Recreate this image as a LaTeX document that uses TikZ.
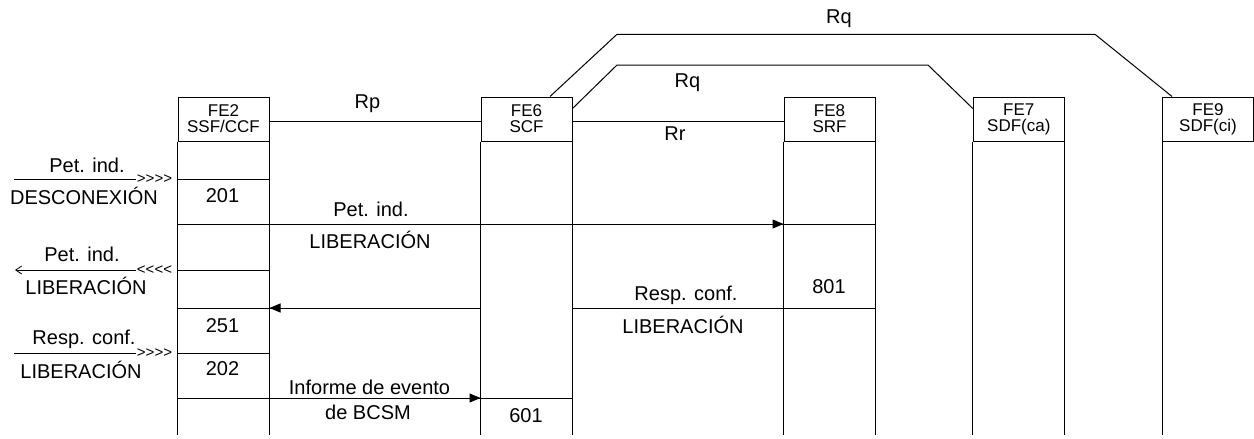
\documentclass[tikz,border=0pt]{standalone}
\usepackage{fontspec}
\setmainfont{Liberation Sans}
\usetikzlibrary{arrows.meta}

\newcommand{\gtfour}{>\kern0pt>\kern0pt>\kern0pt>}
\newcommand{\ltfour}{<\kern0pt<\kern0pt<\kern0pt<}

\tikzset{
  fe/.style={draw, line width=1pt, minimum width=91pt, minimum height=44pt,
    inner sep=0pt, align=center, font=\fontsize{17}{16}\selectfont},
  txt/.style={inner sep=0pt, anchor=base, font=\fontsize{20}{24}\selectfont},
  chev/.style={inner sep=0pt, font=\fontsize{15}{15}\selectfont},
  msg/.style={line width=1pt, -{Triangle[length=11pt,width=9pt]}},
}

\begin{document}
\begin{tikzpicture}[x=1pt, y=-1pt, line width=1pt]
\useasboundingbox (0,0) rectangle (1254,439);

\node[fe] (fe2) at (223.5,119) {FE2\\SSF/CCF};
\node[fe] (fe6) at (526.5,119) {FE6\\SCF};
\node[fe] (fe8) at (829.5,119) {FE8\\SRF};
\node[fe] (fe7) at (1018.8,119) {FE7\\SDF(ca)};
\node[fe] (fe9) at (1208,119) {FE9\\SDF(ci)};

\coordinate (bot) at (0,435);

\draw (fe2.south west)--(fe2.south west |- bot);
\draw (fe2.south east)--(fe2.south east |- bot);
\draw (fe6.south west)--(fe6.south west |- bot);
\draw (fe6.south east)--(fe6.south east |- bot);
\draw (fe8.south west)--(fe8.south west |- bot);
\draw (fe8.south east)--(fe8.south east |- bot);
\draw (fe7.south west)--(fe7.south west |- bot);
\draw (fe7.south east)--(fe7.south east |- bot);
\draw (fe9.south west)--(fe9.south west |- bot);
\draw (fe9.south east)--(fe9.south east |- bot);

% interfaces
\coordinate (q1a) at (617,65);
\coordinate (q1b) at (928,65);
\coordinate (q2a) at (617,34.3);
\coordinate (q2b) at (1095,34.3);

\draw ([yshift=-2pt]fe2.east)--([yshift=-2pt]fe6.west);
\draw ([yshift=-2pt]fe6.east)--([yshift=-2pt]fe8.west);
\draw ([yshift=-12pt]fe6.north east)--(q1a)--(q1b)--([yshift=-12pt]fe7.north west);
\draw ([xshift=23.5pt]fe6.north)--(q2a)--(q2b)--([xshift=10pt]fe9.north west);

\node[txt] (rp) at (367.5,108) {Rp};
\node[txt] (rr) at (675,140) {Rr};
\node[txt] (rq1) at (687.5,87) {Rq};
\node[txt] (rq2) at (839,23.5) {Rq};

% messages from the left
\coordinate (in1) at (14,179);
\coordinate (in2) at (15,270);
\coordinate (in3) at (14,353);
\node[chev] (ch1) at (154.5,178.7) {\gtfour};
\node[chev] (ch2) at (154.5,269.7) {\ltfour};
\node[chev] (ch3) at (154.5,352.7) {\gtfour};

\draw (in1)--(ch1.west |- in1);
\draw[{Straight Barb[length=6pt,width=8pt,line width=0.8pt]}-] (in2)--(ch2.west |- in2);
\draw (in3)--(ch3.west |- in3);

\node[txt] (pi1) at (87,172.7) {Pet. ind.};
\node[txt] (dc1) at (84,204) {DESCONEXIÓN};
\node[txt] (pi2) at (82,261.7) {Pet. ind.};
\node[txt] (lb2) at (86,294) {LIBERACIÓN};
\node[txt] (rc3) at (84,344) {Resp. conf.};
\node[txt] (lb3) at (81,378) {LIBERACIÓN};

% rows
\coordinate (r1) at (0,224);
\coordinate (r3) at (0,308);
\coordinate (r5) at (0,398);

\draw (fe2.west |- in1)--(fe2.east |- in1);
\draw (fe2.west |- in2)--(fe2.east |- in2);
\draw (fe2.west |- in3)--(fe2.east |- in3);

\draw (fe2.west |- r1)--(fe8.east |- r1);
\draw[msg] (fe2.east |- r1)--(fe8.west |- r1);

\draw (fe2.west |- r3)--(fe6.west |- r3);
\draw (fe6.east |- r3)--(fe8.east |- r3);
\draw[msg] (fe6.west |- r3)--(fe2.east |- r3);

\draw (fe2.west |- r5)--(fe6.east |- r5);
\draw[msg] (fe2.east |- r5)--(fe6.west |- r5);

\node[txt] (pi4) at (371,216.5) {Pet. ind.};
\node[txt] (lb4) at (370,248) {LIBERACIÓN};
\node[txt] (rc5) at (686,300) {Resp. conf.};
\node[txt] (lb5) at (683,333) {LIBERACIÓN};
\node[txt] (ie6) at (369.5,394) {Informe de evento};
\node[txt] (bc6) at (368,419) {de BCSM};

\node[txt] (n201) at (222.5,202) {201};
\node[txt] (n251) at (222.5,332) {251};
\node[txt] (n202) at (222.5,375) {202};
\node[txt] (n601) at (526,422) {601};
\node[txt] (n801) at (829,293) {801};

\end{tikzpicture}
\end{document}
